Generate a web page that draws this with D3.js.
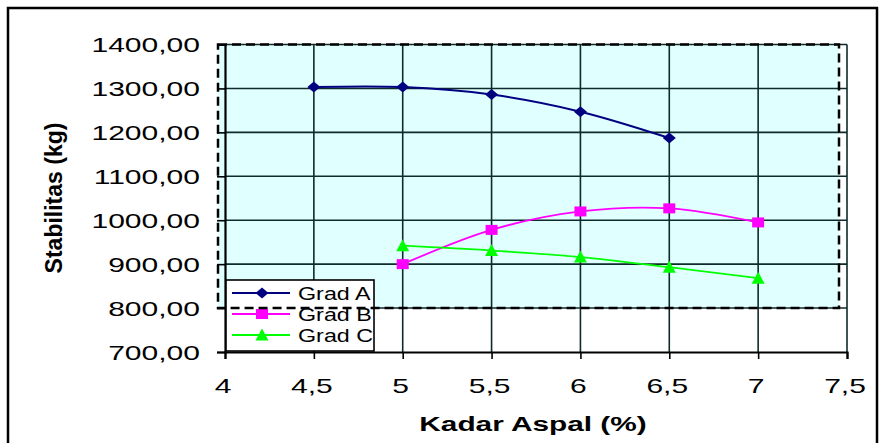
<!DOCTYPE html>
<html>
<head>
<meta charset="utf-8">
<script src="https://cdn.jsdelivr.net/npm/d3@7"></script>
<style>
  body { margin: 0; background: #fff; }
  text { font-family: "Liberation Sans", Arial, sans-serif; }
</style>
</head>
<body>
<div id="chart"></div>
<script>
//data
var kadar = [4.5, 5, 5.5, 6, 6.5, 7];
var gradA = [1303, 1303, 1286, 1247, 1187, null];
var gradB = [null, 900, 978, 1020, 1027, 995];
var gradC = [null, 942, 931, 916, 893, 868];
var seriesNames = ["Grad A", "Grad B", "Grad C"];
var xTicks = [4, 4.5, 5, 5.5, 6, 6.5, 7, 7.5];
var yTicks = [700, 800, 900, 1000, 1100, 1200, 1300, 1400];

var w = 881;
var h = 443;

var colors = ["#000080", "#FF00FF", "#00FF00"];
var shapes = ["diamond", "square", "triangle"];

var locale = d3.formatLocale({ decimal: ",", thousands: ".", grouping: [3], currency: ["", ""] });
var fmtY = locale.format(".2f");
var fmtX = locale.format(".1~f");

var xScale = d3.scaleLinear().domain([4, 7.5]).range([225, 847]);
var yScale = d3.scaleLinear().domain([700, 1400]).range([352, 44.5]);

var svg = d3.select("#chart")
            .append("svg")
            .attr("width", w)
            .attr("height", h);

//outer frame
svg.append("rect")
    .attr("x", 8).attr("y", 8)
    .attr("width", 869).attr("height", 450)
    .attr("fill", "#fff")
    .attr("stroke", "#000")
    .attr("stroke-width", 2.5);

//shaded plot box (800 .. 1400)
var boxX0 = xScale(4) - 7, boxX1 = xScale(7.5) - 8;
var boxY0 = yScale(1400), boxY1 = yScale(800);
svg.append("rect")
    .attr("x", boxX0).attr("y", boxY0)
    .attr("width", boxX1 - boxX0).attr("height", boxY1 - boxY0)
    .attr("fill", "#E0FFFF");

//grid lines
svg.selectAll("hgrid")
    .data(yTicks.slice(1))
    .enter()
    .append("line")
    .attr("x1", xScale(4)).attr("x2", xScale(7.5))
    .attr("y1", function(d) { return yScale(d); })
    .attr("y2", function(d) { return yScale(d); })
    .attr("stroke", "#0f2a2a")
    .attr("stroke-width", 1.6);

svg.selectAll("vgrid")
    .data(xTicks.slice(1))
    .enter()
    .append("line")
    .attr("x1", function(d) { return xScale(d); })
    .attr("x2", function(d) { return xScale(d); })
    .attr("y1", yScale(1400)).attr("y2", yScale(700))
    .attr("stroke", "#0f2a2a")
    .attr("stroke-width", 1.6);

//axes
var yAxis = d3.axisLeft(yScale).tickValues(yTicks).tickSize(8).tickFormat("");
var xAxis = d3.axisBottom(xScale).tickValues(xTicks).tickSize(7).tickFormat("");

svg.append("g")
    .attr("transform", "translate(" + xScale(4) + ",0)")
    .call(yAxis)
    .call(function(g) {
        g.select(".domain").attr("stroke-width", 2.2);
        g.selectAll(".tick line").attr("stroke-width", 1.6);
    });

svg.append("g")
    .attr("transform", "translate(0," + yScale(700) + ")")
    .call(xAxis)
    .call(function(g) {
        g.select(".domain").attr("stroke-width", 2.2);
        g.selectAll(".tick line").attr("stroke-width", 1.6);
    });

//tick labels, stretched sideways like the original
svg.selectAll("ylab")
    .data(yTicks)
    .enter()
    .append("text")
    .attr("transform", function(d) { return "translate(200," + (yScale(d) + 7.5) + ") scale(1.43,1)"; })
    .attr("text-anchor", "end")
    .style("font-size", "21px")
    .attr("fill", "#000")
    .text(function(d) { return fmtY(d); });

svg.selectAll("xlab")
    .data(xTicks)
    .enter()
    .append("text")
    .attr("transform", function(d) { return "translate(" + (xScale(d) - 2) + ",393) scale(1.43,1)"; })
    .attr("text-anchor", "middle")
    .style("font-size", "21px")
    .attr("fill", "#000")
    .text(function(d) { return fmtX(d); });

//axis titles
svg.append("text")
    .attr("transform", "translate(533,431) scale(1.42,1)")
    .attr("text-anchor", "middle")
    .style("font-size", "21px")
    .style("font-weight", "bold")
    .text("Kadar Aspal (%)");

svg.append("text")
    .attr("transform", "translate(62,198) rotate(-90)")
    .attr("text-anchor", "middle")
    .style("font-size", "23px")
    .style("font-weight", "bold")
    .text("Stabilitas (kg)");

//marker paths
function markerPath(shape) {
    if (shape == "diamond") return "M-6.5,0L0,-5.5L6.5,0L0,5.5Z";
    if (shape == "square") return "M-6,-5H6V5H-6Z";
    return "M0,-6.5L6.5,5.5H-6.5Z";
}

var allSeries = [gradA, gradB, gradC];
var line = d3.line()
    .defined(function(d) { return d.v != null; })
    .x(function(d) { return xScale(d.x); })
    .y(function(d) { return yScale(d.v); })
    .curve(d3.curveCatmullRom.alpha(0.5));

allSeries.forEach(function(vals, i) {
    var pts = kadar.map(function(x, j) { return { x: x, v: vals[j] }; })
                   .filter(function(d) { return d.v != null; });
    svg.append("path")
        .datum(pts)
        .attr("d", line)
        .attr("fill", "none")
        .attr("stroke", colors[i])
        .attr("stroke-width", i == 0 ? 2 : 1.8);
    svg.selectAll("mk" + i)
        .data(pts)
        .enter()
        .append("path")
        .attr("transform", function(d) { return "translate(" + xScale(d.x) + "," + yScale(d.v) + ")"; })
        .attr("d", markerPath(shapes[i]))
        .attr("fill", colors[i]);
});

//legend
var legend = svg.append("g");
legend.append("rect")
    .attr("x", 226).attr("y", 280)
    .attr("width", 148).attr("height", 71)
    .attr("fill", "#fff")
    .attr("stroke", "#000")
    .attr("stroke-width", 1.6);

var items = legend.selectAll("g.item")
    .data(seriesNames)
    .enter()
    .append("g")
    .attr("transform", function(d, i) { return "translate(0," + (293 + i * 21) + ")"; });

items.append("line")
    .attr("x1", 232).attr("x2", 290)
    .attr("stroke", function(d, i) { return colors[i]; })
    .attr("stroke-width", 1.8);

items.append("path")
    .attr("transform", "translate(262,0)")
    .attr("d", function(d, i) { return markerPath(shapes[i]); })
    .attr("fill", function(d, i) { return colors[i]; });

items.append("text")
    .attr("transform", "translate(298,6.5) scale(1.26,1)")
    .style("font-size", "18.5px")
    .text(function(d) { return d; });

//dashed border of the shaded box, on top
svg.append("rect")
    .attr("x", boxX0).attr("y", boxY0)
    .attr("width", boxX1 - boxX0).attr("height", boxY1 - boxY0)
    .attr("fill", "none")
    .attr("stroke", "#000")
    .attr("stroke-width", 2.5)
    .attr("stroke-dasharray", "9,5");
</script>
</body>
</html>
